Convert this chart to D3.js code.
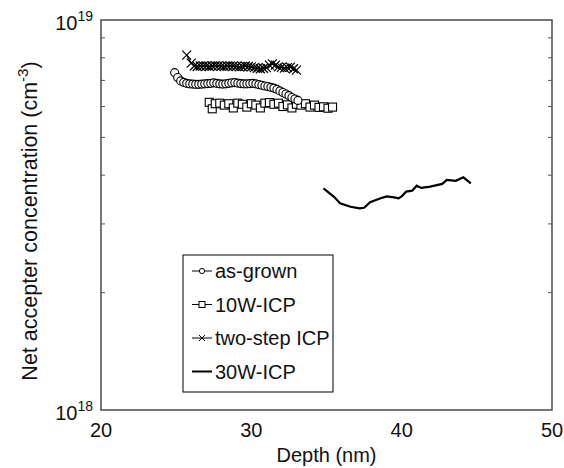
<!DOCTYPE html>
<html>
<head>
<meta charset="utf-8">
<script src="https://cdn.jsdelivr.net/npm/d3@7"></script>
<style>
  body { margin: 0; background: #fff; }
  text { font-family: "Liberation Sans", Arial, sans-serif; fill: #111; }
</style>
</head>
<body>
<div id="chart"></div>
<script>
// as-grown (circles)
var grownDepth = [24.9, 25.1, 25.3, 25.5, 25.7, 25.9, 26.1, 26.3, 26.5, 26.7, 26.9, 27.1, 27.3, 27.5,
  27.7, 27.9, 28.1, 28.3, 28.5, 28.7, 28.9, 29.1, 29.3, 29.5, 29.7, 29.9, 30.1, 30.3, 30.5, 30.7,
  30.9, 31.1, 31.3, 31.5, 31.7, 31.9, 32.1, 32.3, 32.5, 32.7, 32.9, 33.1];
var grownConc = [7.33, 7.12, 6.98, 6.92, 6.88, 6.86, 6.85, 6.84, 6.84, 6.85, 6.86, 6.87, 6.88, 6.90,
  6.88, 6.86, 6.85, 6.86, 6.88, 6.90, 6.91, 6.89, 6.87, 6.86, 6.86, 6.87, 6.88, 6.86, 6.83, 6.80,
  6.77, 6.75, 6.72, 6.69, 6.64, 6.58, 6.52, 6.46, 6.40, 6.33, 6.27, 6.22];

// 10W-ICP (squares)
var w10Depth = [27.2, 27.4, 27.6, 27.9, 28.2, 28.5, 28.8, 29.1, 29.4, 29.7, 30.0, 30.3, 30.6, 30.9,
  31.2, 31.5, 31.8, 32.1, 32.4, 32.7, 33.0, 33.3, 33.6, 33.9, 34.2, 34.5, 34.8, 35.1, 35.4];
var w10Conc = [6.15, 5.92, 6.10, 6.12, 6.05, 6.10, 5.95, 6.12, 6.08, 5.98, 6.10, 6.05, 5.95, 6.12,
  6.14, 6.08, 6.12, 6.00, 6.06, 5.95, 6.08, 6.05, 6.10, 5.98, 6.05, 5.97, 5.99, 5.94, 5.98];

// two-step ICP (crosses)
var twoDepth = [25.7, 26.0, 26.2, 26.4, 26.6, 26.8, 27.0, 27.2, 27.4, 27.6, 27.8, 28.0, 28.2, 28.4,
  28.6, 28.8, 29.0, 29.2, 29.4, 29.6, 29.8, 30.0, 30.2, 30.4, 30.6, 30.8, 31.0, 31.2, 31.4, 31.6,
  31.8, 32.0, 32.2, 32.4, 32.6, 32.8, 33.0];
var twoConc = [8.13, 7.75, 7.62, 7.60, 7.62, 7.63, 7.62, 7.60, 7.62, 7.64, 7.63, 7.61, 7.60, 7.62,
  7.63, 7.62, 7.60, 7.58, 7.60, 7.62, 7.60, 7.58, 7.55, 7.52, 7.50, 7.52, 7.55, 7.66, 7.72, 7.66,
  7.58, 7.56, 7.53, 7.55, 7.57, 7.50, 7.44];

// 30W-ICP (solid line)
var w30Depth = [34.8, 35.5, 35.9, 36.6, 37.2, 37.5, 37.9, 38.6, 39.0, 39.5, 39.8, 40.0, 40.3, 40.7,
  41.0, 41.3, 41.9, 42.7, 43.0, 43.6, 44.1, 44.6];
var w30Conc = [3.70, 3.52, 3.39, 3.32, 3.29, 3.30, 3.41, 3.49, 3.53, 3.51, 3.49, 3.53, 3.63, 3.65,
  3.76, 3.71, 3.74, 3.80, 3.89, 3.87, 3.95, 3.81];

var xTicks = [20, 30, 40, 50];
var legendNames = ["as-grown", "10W-ICP", "two-step ICP", "30W-ICP"];

var W = 564, H = 468;
var margin = {left: 101, right: 12, top: 20, bottom: 58};
var fs = 20;

var svg = d3.select("#chart").append("svg")
  .attr("width", W).attr("height", H);

var x = d3.scaleLinear().domain([20, 50]).range([margin.left, W - margin.right]);
var y = d3.scaleLog().domain([1e18, 1e19]).range([H - margin.bottom, margin.top]);

function pts(dx, dy) {
  return dx.map(function(d, i) { return {x: d, y: dy[i] * 1e18}; });
}

var line = d3.line().x(function(d) { return x(d.x); }).y(function(d) { return y(d.y); });

// frame
svg.append("rect")
  .attr("x", x(20)).attr("y", y(1e19))
  .attr("width", x(50) - x(20)).attr("height", y(1e18) - y(1e19))
  .attr("fill", "none").attr("stroke", "#555").attr("stroke-width", 1.6);

// minor log ticks (inside)
var minor = [2, 3, 4, 5, 6, 7, 8, 9].map(function(m) { return m * 1e18; });
svg.selectAll(".ml").data(minor).enter().append("line")
  .attr("x1", x(20)).attr("x2", x(20) + 4)
  .attr("y1", function(d) { return y(d); }).attr("y2", function(d) { return y(d); })
  .attr("stroke", "#555").attr("stroke-width", 1);
svg.selectAll(".mr").data(minor).enter().append("line")
  .attr("x1", x(50)).attr("x2", x(50) - 4)
  .attr("y1", function(d) { return y(d); }).attr("y2", function(d) { return y(d); })
  .attr("stroke", "#555").attr("stroke-width", 1);

// x tick labels
svg.selectAll(".xt").data(xTicks).enter().append("text")
  .attr("x", function(d) { return x(d); })
  .attr("y", y(1e18) + 27)
  .attr("text-anchor", "middle")
  .attr("font-size", fs)
  .text(function(d) { return d; });

svg.append("text")
  .attr("x", (x(20) + x(50)) / 2).attr("y", H - 6)
  .attr("text-anchor", "middle").attr("font-size", fs)
  .text("Depth (nm)");

// y tick labels 10^18, 10^19
[[1e19, "19"], [1e18, "18"]].forEach(function(t) {
  var tx = svg.append("text")
    .attr("x", x(20) - 8).attr("y", y(t[0]) + 10)
    .attr("text-anchor", "end").attr("font-size", fs);
  tx.append("tspan").text("10");
  tx.append("tspan").attr("dy", -9).attr("font-size", 14).text(t[1]);
});

// y label
var yl = svg.append("text")
  .attr("transform", "translate(37," + ((y(1e18) + y(1e19)) / 2 + 6) + ") rotate(-90)")
  .attr("text-anchor", "middle").attr("font-size", 21.5);
yl.append("tspan").text("Net accepter concentration (cm");
yl.append("tspan").attr("dy", -9).attr("font-size", 15).text("-3");
yl.append("tspan").attr("dy", 9).text(")");

// 30W-ICP line
svg.append("path").datum(pts(w30Depth, w30Conc))
  .attr("d", line).attr("fill", "none").attr("stroke", "#000").attr("stroke-width", 2.2);

// squares
var sq = pts(w10Depth, w10Conc);
svg.append("path").datum(sq).attr("d", line).attr("fill", "none").attr("stroke", "#000").attr("stroke-width", 1);
svg.selectAll(".sq").data(sq).enter().append("rect")
  .attr("x", function(d) { return x(d.x) - 4; })
  .attr("y", function(d) { return y(d.y) - 4; })
  .attr("width", 8).attr("height", 8)
  .attr("fill", "#fff").attr("stroke", "#000").attr("stroke-width", 1.1);

// circles
var ci = pts(grownDepth, grownConc);
svg.append("path").datum(ci).attr("d", line).attr("fill", "none").attr("stroke", "#000").attr("stroke-width", 1);
svg.selectAll(".ci").data(ci).enter().append("circle")
  .attr("cx", function(d) { return x(d.x); })
  .attr("cy", function(d) { return y(d.y); })
  .attr("r", 4)
  .attr("fill", "#fff").attr("stroke", "#000").attr("stroke-width", 1.1);

// crosses
var cr = pts(twoDepth, twoConc);
svg.append("path").datum(cr).attr("d", line).attr("fill", "none").attr("stroke", "#000").attr("stroke-width", 1.2);
svg.selectAll(".cr").data(cr).enter().append("path")
  .attr("transform", function(d) { return "translate(" + x(d.x) + "," + y(d.y) + ")"; })
  .attr("d", "M-4.5,-4.5L4.5,4.5M-4.5,4.5L4.5,-4.5")
  .attr("stroke", "#000").attr("stroke-width", 1.2);

// legend
var lg = svg.append("g").attr("transform", "translate(183,255)");
lg.append("rect").attr("width", 150).attr("height", 137)
  .attr("fill", "#fff").attr("stroke", "#000").attr("stroke-width", 1);
legendNames.forEach(function(name, i) {
  var cy = 16 + i * 33.5;
  var g = lg.append("g").attr("transform", "translate(0," + cy + ")");
  g.append("line").attr("x1", 9).attr("x2", 29).attr("y1", 0).attr("y2", 0)
    .attr("stroke", "#000").attr("stroke-width", i === 3 ? 2 : 1);
  if (i === 0) g.append("circle").attr("cx", 19).attr("cy", 0).attr("r", 2.6)
    .attr("fill", "#fff").attr("stroke", "#000");
  if (i === 1) g.append("rect").attr("x", 16).attr("y", -3).attr("width", 6).attr("height", 6)
    .attr("fill", "#fff").attr("stroke", "#000");
  if (i === 2) g.append("path").attr("d", "M16,-3L22,3M16,3L22,-3").attr("stroke", "#000");
  g.append("text").attr("x", 32).attr("y", 7).attr("font-size", fs).text(name);
});
</script>
</body>
</html>
